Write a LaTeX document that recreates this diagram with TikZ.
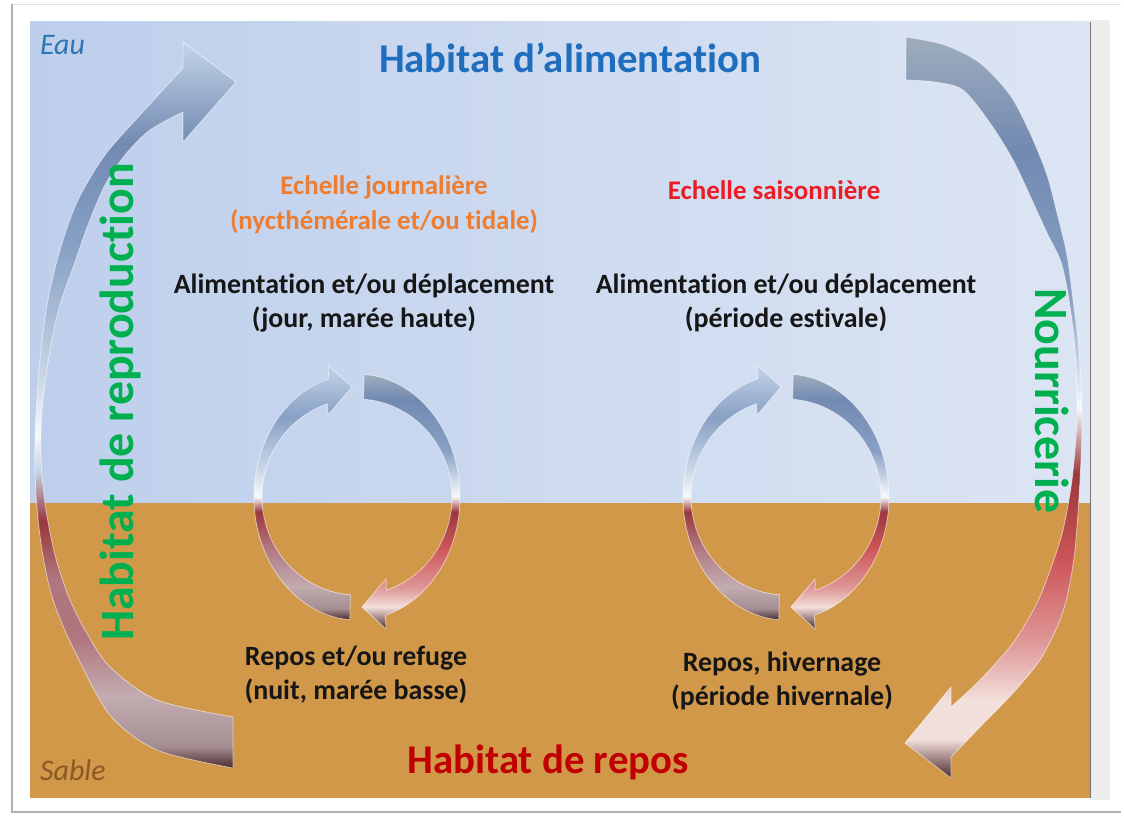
\documentclass[tikz,border=0pt]{standalone}
\usepackage{fontspec}
\setmainfont{Carlito}[Ligatures=NoCommon]

\definecolor{waterleft}{RGB}{190,207,236}
\definecolor{waterright}{RGB}{220,229,243}
\definecolor{sand}{RGB}{209,152,73}
\definecolor{titleblue}{RGB}{31,110,190}
\definecolor{eaublue}{RGB}{46,117,182}
\definecolor{sablebrown}{RGB}{139,89,38}
\definecolor{reposred}{RGB}{192,0,0}
\definecolor{habgreen}{RGB}{0,176,80}
\definecolor{dailyorange}{RGB}{237,125,49}
\definecolor{seasonred}{RGB}{236,28,36}
\definecolor{textblack}{RGB}{22,22,22}

% arrow colours
\definecolor{arrdark}{RGB}{74,42,46}
\definecolor{arrmauve}{RGB}{165,142,146}
\definecolor{arrmauvelight}{RGB}{194,172,176}
\definecolor{arrpinkgray}{RGB}{176,118,126}
\definecolor{arrred}{RGB}{154,56,60}
\definecolor{arrbrightred}{RGB}{205,85,88}
\definecolor{arrpink}{RGB}{222,150,150}
\definecolor{arrpalepink}{RGB}{242,222,218}
\definecolor{arrwhite}{RGB}{248,249,252}
\definecolor{arrpaleblue}{RGB}{200,213,230}
\definecolor{arrblue}{RGB}{135,160,196}
\definecolor{arrsteel}{RGB}{114,138,178}
\definecolor{arrtop}{RGB}{196,213,232}
\definecolor{arrgrayblue}{RGB}{158,172,188}

\pgfdeclareverticalshading{bigup}{100bp}{color(0bp)=(arrdark); color(25bp)=(arrdark);
  color(26.5bp)=(arrmauve); color(30bp)=(arrmauvelight); color(34bp)=(arrpinkgray);
  color(38bp)=(arrpinkgray); color(42bp)=(arrred); color(45.5bp)=(arrpaleblue);
  color(48bp)=(arrwhite); color(52bp)=(arrpaleblue); color(61bp)=(arrblue);
  color(68bp)=(arrsteel); color(75bp)=(arrtop); color(100bp)=(arrtop)}
\pgfdeclareverticalshading{bigdown}{100bp}{color(0bp)=(arrdark); color(25bp)=(arrdark);
  color(27.6bp)=(arrpalepink); color(30.3bp)=(arrpalepink); color(34.3bp)=(arrpink);
  color(39.7bp)=(arrbrightred); color(45.5bp)=(arrred); color(50bp)=(arrwhite);
  color(57.3bp)=(arrblue); color(67.4bp)=(arrsteel); color(75bp)=(arrgrayblue);
  color(100bp)=(arrgrayblue)}
\pgfdeclareverticalshading{cycleup}{100bp}{color(0bp)=(arrdark); color(25bp)=(arrdark);
  color(27.2bp)=(arrmauve); color(31.5bp)=(arrmauvelight); color(39.3bp)=(arrpinkgray);
  color(46.2bp)=(arrred); color(49.1bp)=(arrwhite); color(55bp)=(arrpaleblue);
  color(64.8bp)=(arrblue); color(75bp)=(arrtop); color(100bp)=(arrtop)}
\pgfdeclareverticalshading{cycledown}{100bp}{color(0bp)=(arrdark); color(25bp)=(arrdark);
  color(29.3bp)=(arrpalepink); color(33.2bp)=(arrpink); color(41bp)=(arrbrightred);
  color(48bp)=(arrred); color(51bp)=(arrwhite); color(60bp)=(arrblue);
  color(70bp)=(arrsteel); color(75bp)=(arrgrayblue); color(100bp)=(arrgrayblue)}

\tikzset{
    hab-title/.style = {font=\fontsize{41}{49}\selectfont\bfseries, inner sep=0pt},
    side-title/.style = {font=\fontsize{48}{56}\selectfont\bfseries, text=habgreen, inner sep=0pt},
    scale-label/.style = {font=\fontsize{27}{35}\selectfont\bfseries, align=center, inner sep=0pt},
    body-label/.style = {font=\fontsize{28}{34}\selectfont\bfseries, align=center, inner sep=0pt, text=textblack},
    zone-label/.style = {font=\fontsize{30}{36}\selectfont\itshape, inner sep=0pt, anchor=west},
    bevel/.style = {draw=white, draw opacity=0.55, line width=0.8pt},
}

\begin{document}
\begin{tikzpicture}[x=1bp, y=-1bp]
\useasboundingbox (0,0) rectangle (1124,816);
\fill[white] (0,0) rectangle (1124,816);

% card frame
\draw[black!12, line width=1pt] (12,4) -- (1121,4);
\draw[black!30, line width=1.6pt] (12,4) -- (12,812) -- (1121,812);
\fill[black!7] (1090,20) rectangle (1110,800);

% water and sand
\shade[left color=waterleft, right color=waterright] (30,22) rectangle (1090,503);
\fill[sand] (30,503) rectangle (1090,798);
\draw[black!55, line width=1pt] (1090,22) -- (1090,798);

% big arrows
\shade[shading=bigup, bevel]
  plot[smooth] coordinates {(233,768) (157,750) (110,715) (75,652) (53,600) (42,550)
    (36,495) (35,440) (39,370) (47,305) (60,250) (78,200) (105,155) (140,115) (183,68)}
  -- (183,42) -- (236,82) -- (183,142) -- (183,112)
  -- plot[smooth] coordinates {(183,112) (150,130) (125,155) (105,185) (88,225) (75,262)
    (60,305) (50,350) (42,410) (41,460) (46,510) (55,555) (68,595) (85,630) (110,667)
    (157,700) (233,717)}
  -- cycle;
\shade[shading=bigdown, bevel]
  plot[smooth] coordinates {(906,37) (945,45) (980,63) (1010,95) (1030,133) (1047,175)
    (1058,217) (1067,255) (1073,300) (1079,350) (1082,417) (1080,480) (1075,550)
    (1067,597) (1057,627) (1040,660) (1013,693) (980,727) (951,757)}
  -- (951,778) -- (905,743) -- (951,687) -- (951,707)
  -- plot[smooth] coordinates {(951,707) (980,680) (1013,643) (1037,603) (1052,565)
    (1063,530) (1072,480) (1077,417) (1075,350) (1069,300) (1061,262) (1047,233)
    (1032,200) (1013,160) (990,123) (963,90) (935,82) (906,80)}
  -- cycle;

% small cycles
\foreach \cx in {357,786} {
  \begin{scope}[shift={(\cx,497)}]
    \shade[shading=cycleup, bevel] (94:103 and 123)
      arc[start angle=94, end angle=254, x radius=103, y radius=123]
      -- (-29,-132) -- (-5,-110) -- (-29,-82) -- (252:95 and 98)
      arc[start angle=252, end angle=94, x radius=95, y radius=98] -- cycle;
    \shade[shading=cycledown, bevel] (274:103 and 123)
      arc[start angle=274, end angle=434, x radius=103, y radius=123]
      -- (29,132) -- (5,110) -- (29,82) -- (432:95 and 98)
      arc[start angle=432, end angle=274, x radius=95, y radius=98] -- cycle;
  \end{scope}
}

% labels
\node[hab-title, text=titleblue] (alim) at (570,58) {Habitat d’alimentation};
\node[hab-title, text=reposred] (repos) at (548,762) {Habitat de repos};
\node[side-title, rotate=90, anchor=base] (repro) at (133,402) {Habitat de reproduction};
\node[side-title, rotate=-90, anchor=base] (nourri) at (1035,401) {Nourricerie};
\node[zone-label, text=eaublue] (eau) at (40,45) {Eau};
\node[zone-label, text=sablebrown] (sable) at (40,770) {Sable};

\node[scale-label, text=dailyorange] (daily) at (384,205) {Echelle journalière\\(nycthémérale et/ou tidale)};
\node[scale-label, text=seasonred] (season) at (774,190) {Echelle saisonnière};

\node[body-label] (dayup) at (364,303) {Alimentation et/ou déplacement\\(jour, marée haute)};
\node[body-label] (seasonup) at (786,303) {Alimentation et/ou déplacement\\(période estivale)};
\node[body-label] (daydown) at (356,675) {Repos et/ou refuge\\(nuit, marée basse)};
\node[body-label] (seasondown) at (782,681) {Repos, hivernage\\(période hivernale)};
\end{tikzpicture}
\end{document}
